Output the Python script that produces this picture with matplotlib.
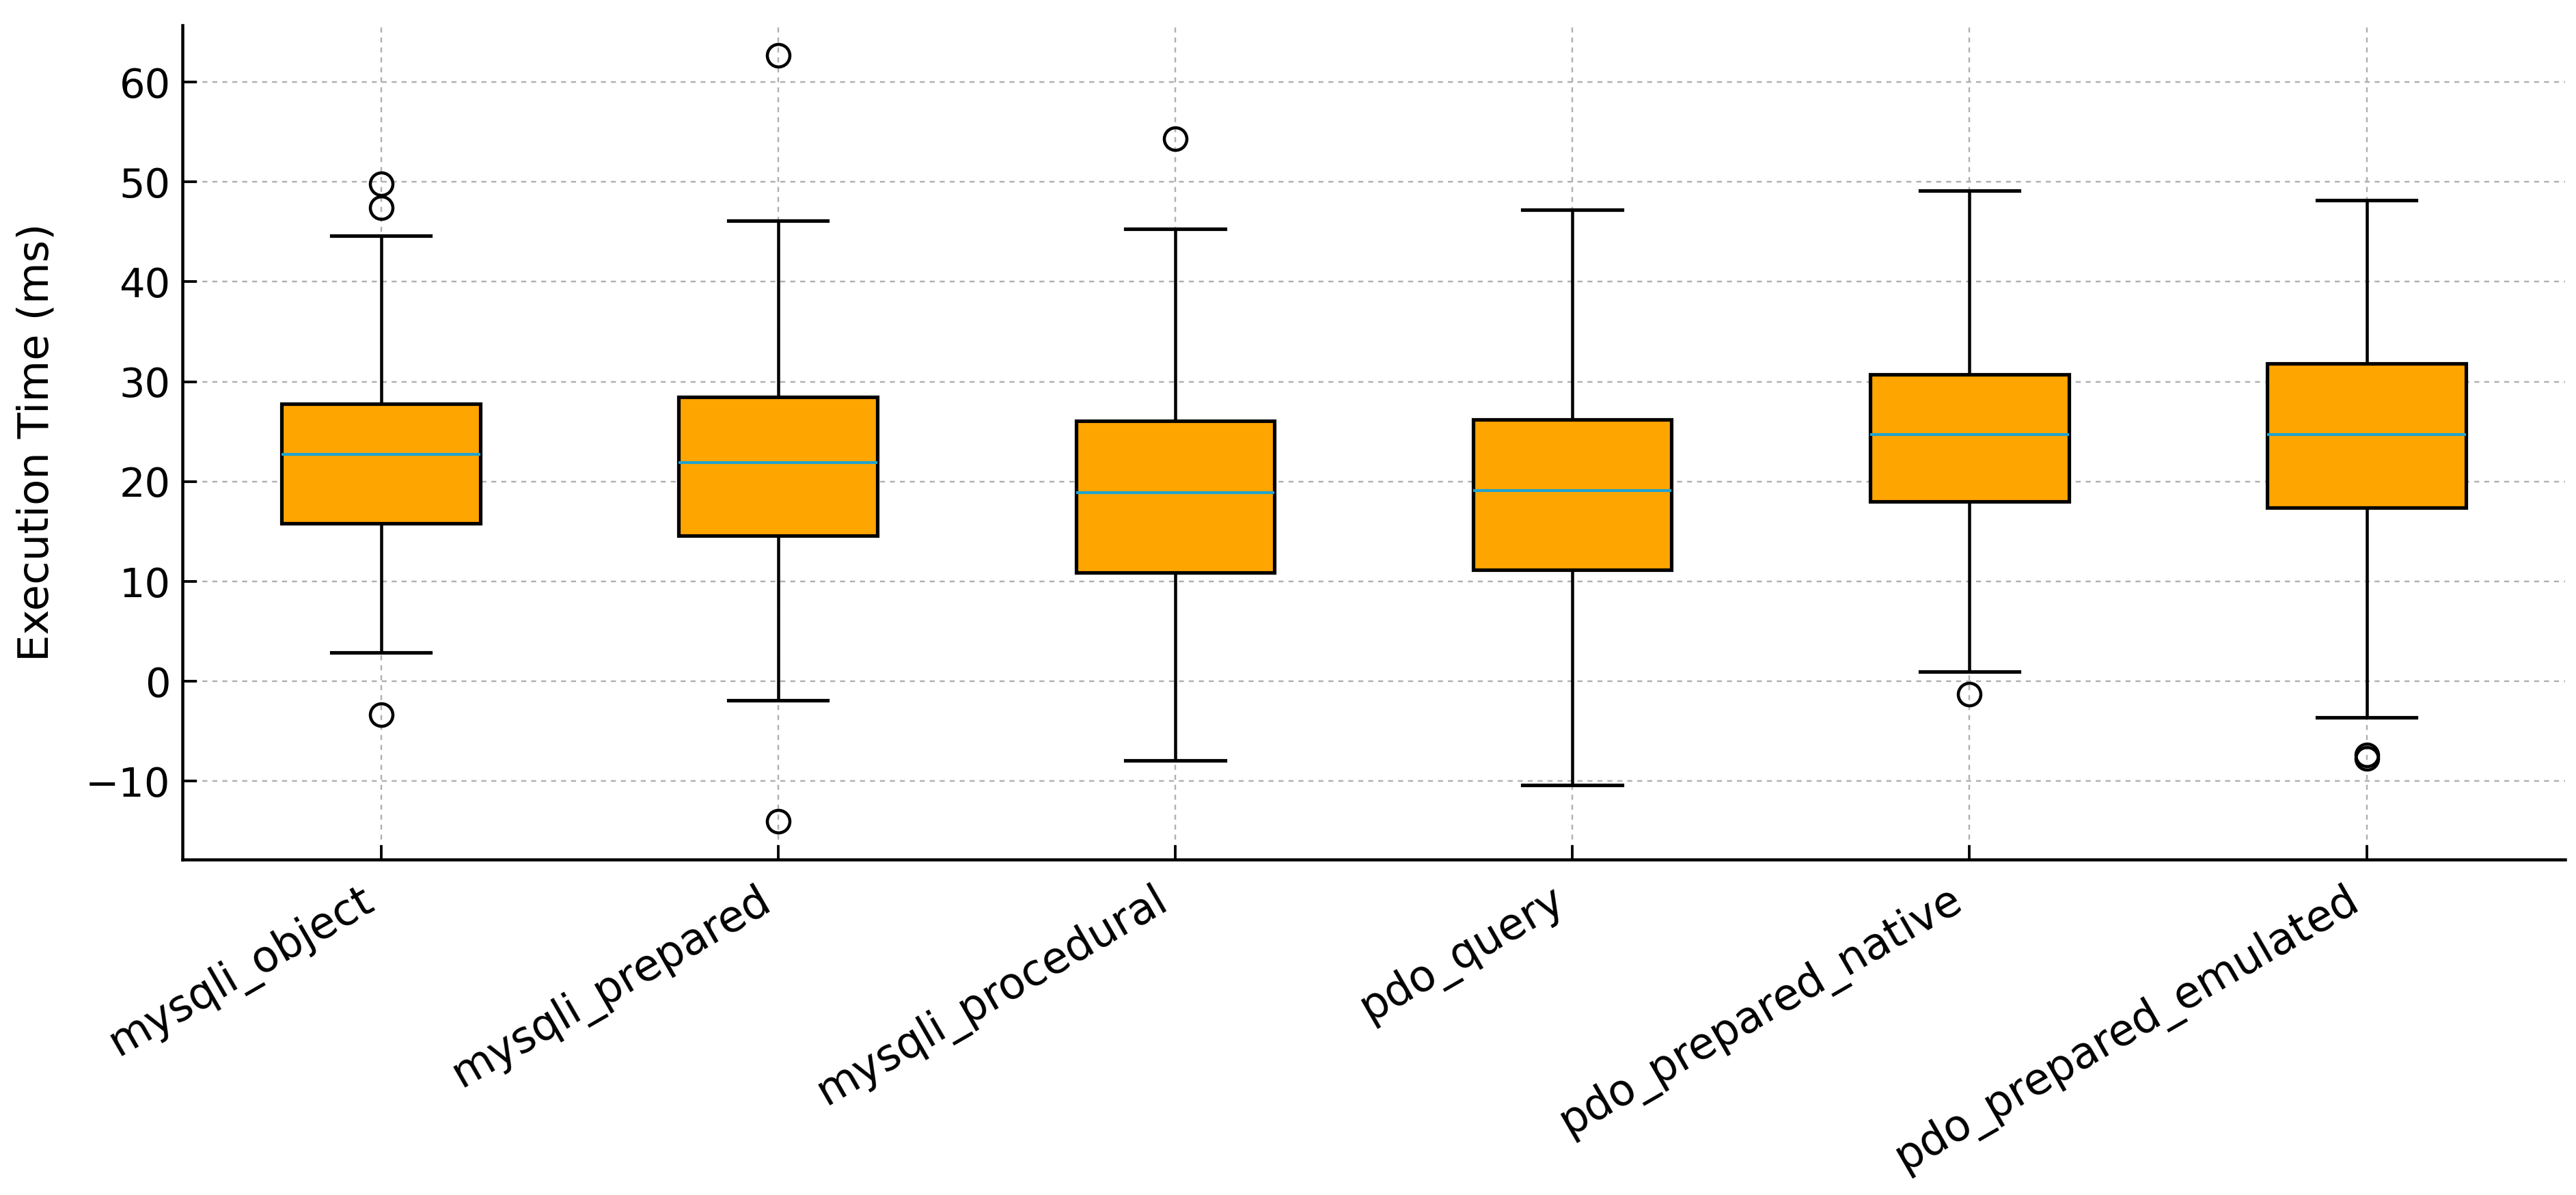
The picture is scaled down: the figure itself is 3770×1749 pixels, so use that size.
import matplotlib
matplotlib.use("Agg")
import matplotlib.pyplot as plt

# values (ms)
labels = ["mysqli_object", "mysqli_prepared", "mysqli_procedural",
          "pdo_query", "pdo_prepared_native", "pdo_prepared_emulated"]
whislo = [2.9, -1.9, -7.9, -10.4, 1.0, -3.6]
q1 = [15.8, 14.6, 10.9, 11.2, 18.0, 17.4]
med = [22.7, 21.9, 18.9, 19.1, 24.7, 24.7]
q3 = [27.8, 28.5, 26.1, 26.2, 30.7, 31.8]
whishi = [44.6, 46.1, 45.3, 47.2, 49.1, 48.2]
fliers = [[49.8, 47.4, -3.3], [62.7, -14.0], [54.3], [], [-1.3], [-7.4, -7.7]]

stats = []
for i in range(len(labels)):
    stats.append({"label": labels[i], "whislo": whislo[i], "q1": q1[i],
                  "med": med[i], "q3": q3[i], "whishi": whishi[i],
                  "fliers": fliers[i]})

fig = plt.figure(figsize=(15.08, 6.996), dpi=250)
ax = fig.add_axes([0.0708, 0.281, 0.925, 0.698])

ax.bxp(stats, patch_artist=True, widths=0.5,
       boxprops=dict(facecolor="orange", edgecolor="black", linewidth=1.5),
       medianprops=dict(color="#1fa3cf", linewidth=1.2),
       whiskerprops=dict(color="black", linewidth=1.3),
       capprops=dict(color="black", linewidth=1.5),
       flierprops=dict(marker="o", markerfacecolor="none", markeredgecolor="black",
                       markersize=9.5, markeredgewidth=1.3))

ax.set_xlim(0.5, 6.5)
ax.set_ylim(-17.8, 65.7)
ax.set_yticks([-10, 0, 10, 20, 30, 40, 50, 60])
ax.set_xticks(range(1, 7))
ax.set_xticklabels(labels, rotation=30, ha="right", fontsize=18.3)
ax.tick_params(axis="y", labelsize=17, pad=5)
ax.tick_params(axis="x", pad=8)
ax.tick_params(direction="in", length=6, width=1.1)
ax.set_ylabel("Execution Time (ms)", fontsize=18, labelpad=12)

ax.grid(True, linestyle=(0, (3, 3)), color="#b0b0b0", linewidth=0.7)
ax.set_axisbelow(True)
for s in ["top", "right"]:
    ax.spines[s].set_visible(False)
for s in ["left", "bottom"]:
    ax.spines[s].set_linewidth(1.3)

fig.savefig("out.png", dpi=250)
